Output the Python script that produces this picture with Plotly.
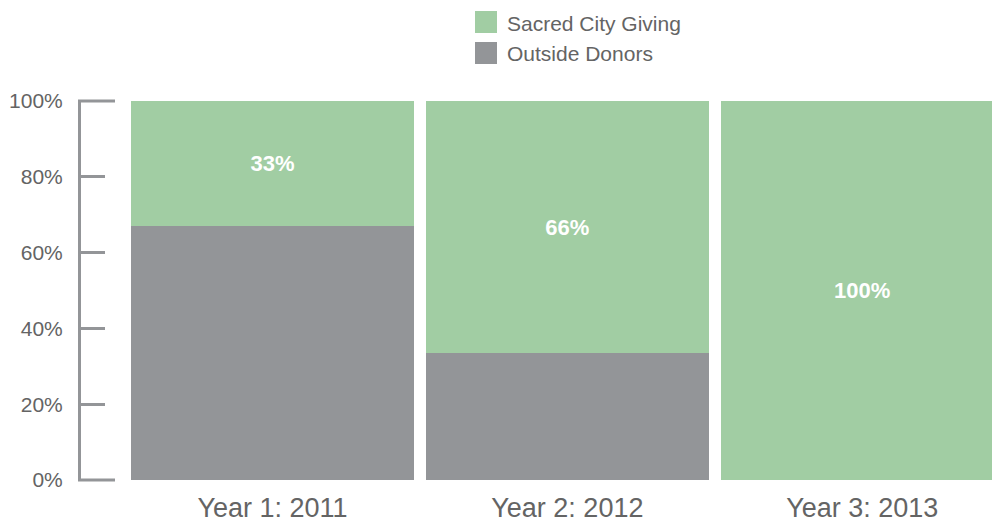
import plotly.graph_objects as go

categories = ["Year 1: 2011", "Year 2: 2012", "Year 3: 2013"]
outside_donors = [67, 33.5, 0]
sacred_city = [33, 66.5, 100]
sacred_labels = ["33%", "66%", "100%"]
series_names = ["Sacred City Giving", "Outside Donors"]
y_tickvals = [0, 20, 40, 60, 80, 100]
y_ticktext = ["0%", "20%", "40%", "60%", "80%", "100%"]

GREEN = "#A1CDA3"
GRAY = "#939598"
AXIS = "#939598"
TXT = "#646464"
FONT = "Liberation Sans, Arial, sans-serif"

W, H = 992, 522
L, R, T, B = 79, 0, 101, 42
PW = W - L - R
PH = H - T - B

def px_x(p):
    return (p - L) / PW

def px_y(p):
    return (H - B - p) / PH

fig = go.Figure()
fig.add_trace(go.Bar(
    x=categories, y=outside_donors, name=series_names[1],
    marker=dict(color=GRAY, line=dict(width=0)), showlegend=False,
    hoverinfo="skip",
))
fig.add_trace(go.Bar(
    x=categories, y=sacred_city, name=series_names[0],
    marker=dict(color=GREEN, line=dict(width=0)), showlegend=False,
    text=sacred_labels, textposition="inside", insidetextanchor="middle",
    textfont=dict(color="white", size=22, family=FONT, weight="bold"),
    textangle=0, hoverinfo="skip",
))

fig.update_layout(
    width=W, height=H,
    margin=dict(l=L, r=R, t=T, b=B, pad=0),
    paper_bgcolor="white", plot_bgcolor="white",
    barmode="stack", bargap=0.04,
    font=dict(family=FONT, color=TXT),
    xaxis=dict(
        domain=[px_x(125), 1], range=[-0.5, 2.44],
        showgrid=False, zeroline=False, showline=False, ticks="",
        tickfont=dict(size=27, color=TXT), ticklabelstandoff=9,
    ),
    yaxis=dict(
        range=[0, 100], anchor="free", position=0,
        tickvals=y_tickvals, ticktext=y_ticktext,
        showgrid=False, zeroline=False,
        showline=True, linecolor=AXIS, linewidth=3,
        ticks="inside", ticklen=24, tickwidth=3, tickcolor=AXIS,
        tickfont=dict(size=21, color=TXT), ticklabelstandoff=11,
    ),
    showlegend=False,
)

# bracket ends of the y axis (top and bottom)
for yv in (0, 1):
    fig.add_shape(type="line", xref="paper", yref="paper",
                  x0=px_x(78), x1=px_x(115), y0=yv, y1=yv,
                  line=dict(color=AXIS, width=3))

# custom legend
legend_items = [(series_names[0], GREEN, 11), (series_names[1], GRAY, 42)]
for name, col, top in legend_items:
    fig.add_shape(type="rect", xref="paper", yref="paper",
                  x0=px_x(475), x1=px_x(497), y0=px_y(top + 22), y1=px_y(top),
                  fillcolor=col, line=dict(width=0))
    fig.add_annotation(xref="paper", yref="paper", x=px_x(505), y=px_y(top + 12),
                       text=name, showarrow=False, xanchor="left", yanchor="middle",
                       font=dict(size=21, color=TXT, family=FONT))

fig.write_html("out.html")
